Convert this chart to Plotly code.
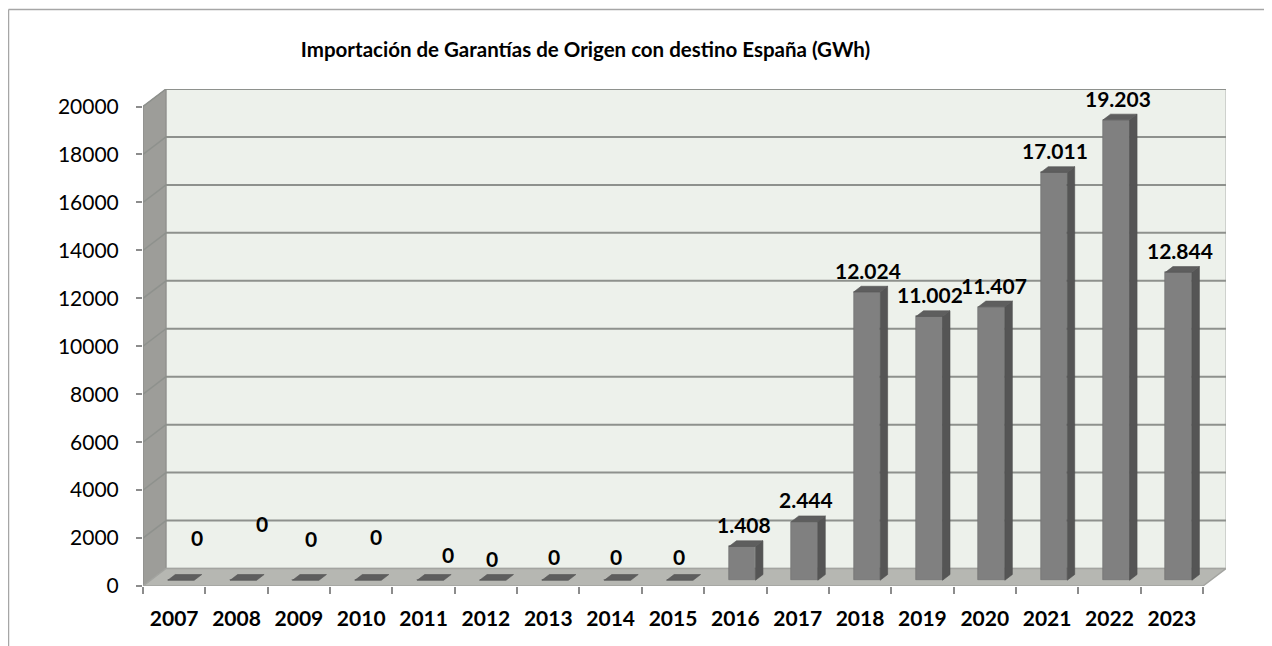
import plotly.graph_objects as go

# ---------------- data ----------------
years = ["2007", "2008", "2009", "2010", "2011", "2012", "2013", "2014", "2015",
         "2016", "2017", "2018", "2019", "2020", "2021", "2022", "2023"]
values = [0, 0, 0, 0, 0, 0, 0, 0, 0, 1408, 2444, 12024, 11002, 11407, 17011, 19203, 12844]
value_labels = ["0", "0", "0", "0", "0", "0", "0", "0", "0",
                "1.408", "2.444", "12.024", "11.002", "11.407", "17.011", "19.203", "12.844"]
y_ticks = [0, 2000, 4000, 6000, 8000, 10000, 12000, 14000, 16000, 18000, 20000]
title_text = "Importación de Garantías de Origen con destino España (GWh)"

# manual nudges (pixels) of the data labels, as placed in the original
label_nudge_x = [14, 17, 4, 6, 16, -2, -3, -3, -2, 0, 0, 0, -1, 1, 0, 0, 0]
label_nudge_y = [21, 35, 20, 22, 4, 0, 2, 2, 2, 0, 0, 0, 0, 0, 0, 0, 0]

# ---------------- geometry / style ----------------
OFF = 8                      # page body margin of the html page
W, H = 1272 - OFF, 646 - OFF
ML, MR, MT, MB = 143 - OFF, 46, 89 - OFF, 60
PW, PH = W - ML - MR, H - MT - MB
n = len(years)
depth_x = 0.369          # wall depth, in category units
depth_y = 730            # wall depth, in value units
x_lo, x_hi = -0.5, n - 0.5 + depth_x
y_lo, y_hi = 0, y_ticks[-1] + depth_y

bar_off, bar_w = 0.11, 0.425
bar_lift, bar_dx, bar_dy = 240, 0.12, 238

FONT = "Lato, 'Open Sans', sans-serif"
FS = 21
GRID = "#8e918d"
FRAME = "#a6a6a6"


def px2paper_x(px):
    return (px - OFF - ML) / PW


def px2paper_y(py):
    return (H - MB - (py - OFF)) / PH


fig = go.Figure()

shapes = []
# back wall
bx0, bx1 = x_lo + depth_x, x_hi
shapes.append(dict(type="rect", xref="x", yref="y", x0=bx0, x1=bx1, y0=depth_y,
                   y1=y_ticks[-1] + depth_y, fillcolor="#edf1eb",
                   line=dict(color="#c4c6c3", width=1.5), layer="below"))
# left wall
shapes.append(dict(type="path", xref="x", yref="y", layer="below",
                   path=f"M{x_lo},0 L{x_lo},{y_ticks[-1]} L{bx0},{y_ticks[-1] + depth_y} L{bx0},{depth_y} Z",
                   fillcolor="#9d9d99", line=dict(color="#8a8a87", width=1)))
# floor
fx1 = n - 0.5
shapes.append(dict(type="path", xref="x", yref="y", layer="below",
                   path=f"M{x_lo},0 L{fx1},0 L{fx1 + depth_x},{depth_y} L{bx0},{depth_y} Z",
                   fillcolor="#b6b7b2", line=dict(color="#a3a4a0", width=1.5)))
# gridlines on back wall + left wall
for v in y_ticks[1:]:
    shapes.append(dict(type="line", xref="x", yref="y", layer="below",
                       x0=bx0, x1=bx1, y0=v + depth_y, y1=v + depth_y,
                       line=dict(color=GRID, width=2)))
    shapes.append(dict(type="line", xref="x", yref="y", layer="below",
                       x0=x_lo, x1=bx0, y0=v, y1=v + depth_y,
                       line=dict(color=GRID, width=1.5)))
# outer chart frame (top and left)
shapes.append(dict(type="line", xref="paper", yref="paper",
                   x0=px2paper_x(8.5), x1=px2paper_x(1272), y0=px2paper_y(9.5), y1=px2paper_y(9.5),
                   line=dict(color=FRAME, width=1.5)))
shapes.append(dict(type="line", xref="paper", yref="paper",
                   x0=px2paper_x(8.5), x1=px2paper_x(8.5), y0=px2paper_y(9.5), y1=px2paper_y(646),
                   line=dict(color=FRAME, width=1.5)))

# ---------------- bars ----------------
xs = list(range(n))
fig.add_trace(go.Bar(x=[i + bar_off for i in xs], y=values, base=[bar_lift] * n,
                     width=bar_w, marker=dict(color="#808080", line=dict(width=0.6, color="#6e6e6e")),
                     hoverinfo="skip", showlegend=False))

side_x, side_y, top_x, top_y = [], [], [], []
for i, v in zip(xs, values):
    xl = i + bar_off - bar_w / 2
    xr = i + bar_off + bar_w / 2
    yb = bar_lift
    yt = bar_lift + v
    if v > 0:
        side_x += [xr, xr + bar_dx, xr + bar_dx, xr, xr, None]
        side_y += [yb, yb + bar_dy, yt + bar_dy, yt, yb, None]
    top_x += [xl, xr, xr + bar_dx, xl + bar_dx, xl, None]
    top_y += [yt, yt, yt + bar_dy, yt + bar_dy, yt, None]

fig.add_trace(go.Scatter(x=side_x, y=side_y, mode="lines", fill="toself",
                         fillcolor="#555555", line=dict(color="#4f4f4f", width=0.6),
                         hoverinfo="skip", showlegend=False))
fig.add_trace(go.Scatter(x=top_x, y=top_y, mode="lines", fill="toself",
                         fillcolor="#5e5e5e", line=dict(color="#555555", width=0.6),
                         hoverinfo="skip", showlegend=False))
# invisible trace for the boundary-tick axis
fig.add_trace(go.Scatter(x=[x_lo, x_hi], y=[0, 0], xaxis="x2", mode="markers",
                         marker=dict(opacity=0), hoverinfo="skip", showlegend=False))

# ---------------- data labels ----------------
annotations = []
for i, v, t, nx, ny in zip(xs, values, value_labels, label_nudge_x, label_nudge_y):
    annotations.append(dict(x=i + bar_off + bar_dx / 2 * 0.4, y=bar_lift + v + bar_dy,
                            xref="x", yref="y", text=f"<b>{t}</b>", showarrow=False,
                            xanchor="center", yanchor="middle",
                            xshift=nx, yshift=16 + ny,
                            font=dict(family=FONT, size=FS, color="#000000")))

fig.update_layout(
    width=W, height=H,
    margin=dict(l=ML, r=MR, t=MT, b=MB, pad=0),
    paper_bgcolor="#ffffff", plot_bgcolor="#ffffff",
    title=dict(text=f"<b>{title_text}</b>", x=(585.5 - OFF) / W, xref="container", xanchor="center",
               y=1 - (50 - OFF) / H, yref="container", yanchor="middle",
               font=dict(family=FONT, size=20.5, color="#000000")),
    xaxis=dict(range=[x_lo, x_hi], tickvals=xs, ticktext=years, ticks="",
               showgrid=False, zeroline=False, showline=False,
               tickfont=dict(family=FONT, size=FS, color="#000000", weight="bold"),
               ticklabelstandoff=18),
    xaxis2=dict(range=[x_lo, x_hi], overlaying="x", anchor="y", side="bottom",
                tickvals=[i - 0.5 for i in range(n + 1)], ticks="outside", ticklen=7,
                tickwidth=1.5, tickcolor="#8c8c8c", showticklabels=False,
                showgrid=False, zeroline=False, showline=False),
    yaxis=dict(range=[y_lo, y_hi], tickvals=y_ticks, ticktext=[str(v) for v in y_ticks],
               ticks="outside", ticklen=6, tickwidth=1.5, tickcolor="#8c8c8c",
               showgrid=False, zeroline=False, showline=False,
               tickfont=dict(family=FONT, size=FS, color="#000000"),
               ticklabelstandoff=13),
    shapes=shapes,
    annotations=annotations,
    bargap=0,
    showlegend=False,
)

fig.write_html("out.html")
